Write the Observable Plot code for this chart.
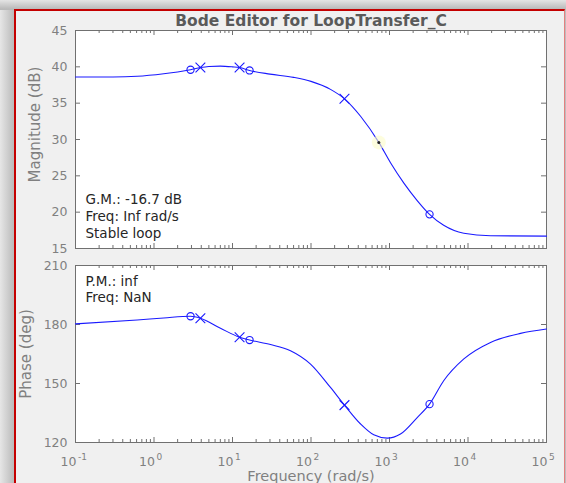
<!DOCTYPE html>
<html>
<head>
<meta charset="utf-8">
<script src="https://cdn.jsdelivr.net/npm/d3@7"></script>
<script src="https://cdn.jsdelivr.net/npm/@observablehq/plot@0.6"></script>
<style>
  html, body { margin:0; padding:0; width:566px; height:483px; overflow:hidden; }
  body { position:relative; background: linear-gradient(90deg, #e6e6e6 0px, #bdbdbd 13px, #bdbdbd 100%); }
  #shadowTop { position:absolute; left:0; top:0; width:566px; height:10px; background: linear-gradient(180deg, #e4e4e4 0px, #b9b9b9 9px); }
  #fig { position:absolute; left:14px; top:9px; width:548px; height:490px; background:#f0f0f0;
         border-top:2px solid #c40000; border-left:2px solid #c40000; border-right:1px solid #e48080; }
  .chart { position:absolute; left:0; }
  #mag { top:0px; }
  #phase { top:255px; }
</style>
</head>
<body>
<div id="shadowTop"></div>
<div id="fig"></div>
<div id="mag" class="chart"></div>
<div id="phase" class="chart"></div>
<script>
// ---------- data ----------
const freqMag = [0.1, 0.3, 0.61, 1.33, 2.0, 2.92, 3.9, 5, 7, 10, 12.3, 16.5, 30, 60, 100, 177, 267, 428, 731, 1030, 1524, 2254, 3236, 4900, 8850, 19360, 100000];
const magDb   = [38.6, 38.6, 38.7, 39.05, 39.3, 39.6, 39.9, 40.05, 40.1, 40.0, 39.9, 39.5, 39.0, 38.55, 38.0, 36.9, 35.6, 33.2, 29.6, 26.8, 24.0, 21.6, 19.7, 18.2, 17.1, 16.75, 16.7];

const freqPh   = [0.1, 0.61, 1.33, 2.92, 3.9, 7.03, 12.3, 16.5, 30.5, 54.8, 98.6, 177, 267, 428, 630, 935, 1380, 2254, 3236, 4900, 8850, 19360, 46700, 100000];
const phaseDeg = [180.3, 182.3, 183.3, 184.2, 183.2, 178.1, 173.5, 172.1, 169.8, 166.7, 159.9, 148.0, 139.0, 129.4, 123.9, 122.2, 124.3, 132.7, 139.5, 151.4, 162.5, 170.9, 175.5, 177.7];

// compensator poles (x) and zeros (o)
const zeroFreq  = [2.92, 16.5, 3236];
const zeroMag   = [39.6, 39.5, 19.7];
const zeroPhase = [184.2, 172.1, 139.5];
const poleFreq  = [3.9, 12.3, 267];
const poleMag   = [39.9, 39.9, 35.6];
const polePhase = [183.2, 173.5, 139.0];
const gmFreq = [731];
const gmMag  = [29.6];

// ticks and labels
const xMajor = [0.1, 1, 10, 100, 1000, 10000, 100000];
const xExp   = ["-1", "0", "1", "2", "3", "4", "5"];
const xMinor = [0.1, 1, 10, 100, 1000, 10000].flatMap(d => [2,3,4,5,6,7,8,9].map(m => d * m));
const magTicks   = [15, 20, 25, 30, 35, 40, 45];
const phaseTicks = [120, 150, 180, 210];

const title = "Bode Editor for LoopTransfer_C";
const magLabel = "Magnitude (dB)";
const phaseLabel = "Phase (deg)";
const freqLabel = "Frequency (rad/s)";
const gmText = ["G.M.: -16.7 dB", "Freq: Inf rad/s", "Stable loop"];
const pmText = ["P.M.: inf", "Freq: NaN"];

// ---------- layout ----------
const W = 566, ML = 75, MR = 20;
const PW = W - ML - MR;
const axisColor = "#707070";
const labelColor = "#808080";
const lineColor = "#1a1aff";
const font = "DejaVu Sans, Liberation Sans, sans-serif";

const magRows = freqMag.map((f, i) => ({f, v: magDb[i]}));
const phRows  = freqPh.map((f, i) => ({f, v: phaseDeg[i]}));
const zMag = zeroFreq.map((f, i) => ({f, v: zeroMag[i]}));
const pMag = poleFreq.map((f, i) => ({f, v: poleMag[i]}));
const zPh  = zeroFreq.map((f, i) => ({f, v: zeroPhase[i]}));
const pPh  = poleFreq.map((f, i) => ({f, v: polePhase[i]}));
const gmRows = gmFreq.map((f, i) => ({f, v: gmMag[i]}));

function boxTicks(PH, yTicks) {
  return [
    Plot.tickX(xMajor, {x: d => d, insetTop: PH - 5, stroke: axisColor}),
    Plot.tickX(xMajor, {x: d => d, insetBottom: PH - 5, stroke: axisColor}),
    Plot.tickX(xMinor, {x: d => d, insetTop: PH - 3, stroke: axisColor}),
    Plot.tickX(xMinor, {x: d => d, insetBottom: PH - 3, stroke: axisColor}),
    Plot.tickY(yTicks, {y: d => d, insetRight: PW - 5, stroke: axisColor}),
    Plot.tickY(yTicks, {y: d => d, insetLeft: PW - 5, stroke: axisColor}),
    Plot.text(yTicks, {y: d => d, frameAnchor: "left", text: d => String(d), textAnchor: "end", dx: -8, fill: labelColor, fontSize: 12.5})
  ];
}

// ---------- magnitude ----------
const magMT = 30, magMB = 7, magH = 255;
const magPH = magH - magMT - magMB;
const mag = Plot.plot({
  width: W, height: magH,
  marginLeft: ML, marginRight: MR, marginTop: magMT, marginBottom: magMB,
  style: {background: "transparent", fontFamily: font, overflow: "visible"},
  x: {type: "log", domain: [0.1, 1e5], axis: null},
  y: {domain: [15, 45], axis: null},
  marks: [
    Plot.frame({fill: "white", stroke: axisColor}),
    ...boxTicks(magPH, magTicks),
    Plot.line(magRows, {x: "f", y: "v", curve: "monotone-x", stroke: lineColor, strokeWidth: 1.1}),
    Plot.dot(gmRows, {x: "f", y: "v", r: 7, fill: "#fbfbc8", fillOpacity: 0.6}),
    Plot.dot(gmRows, {x: "f", y: "v", r: 1.5, fill: "#222"}),
    Plot.dot(zMag, {x: "f", y: "v", r: 3.6, stroke: lineColor, fill: "none", strokeWidth: 1.1}),
    Plot.dot(pMag, {x: "f", y: "v", symbol: "times", r: 4.5, stroke: lineColor, strokeWidth: 1.1}),
    Plot.text([gmText.join("\n")], {frameAnchor: "bottom-left", text: d => d, textAnchor: "start", lineAnchor: "bottom", lineHeight: 1.25, dx: 10, dy: -11, fontSize: 13.5, fill: "#262626"}),
    Plot.text([title], {frameAnchor: "top", text: d => d, textAnchor: "middle", lineAnchor: "bottom", dy: -5, fontSize: 15.5, fontWeight: "bold", fill: "#5a5a5a"}),
    Plot.text([magLabel], {frameAnchor: "left", text: d => d, textAnchor: "middle", rotate: -90, dx: -40, dy: -15, fontSize: 15, fill: labelColor})
  ]
});
document.getElementById("mag").appendChild(mag);

// ---------- phase ----------
const phMT = 10, phMB = 41, phH = 228;
const phPH = phH - phMT - phMB;
const phase = Plot.plot({
  width: W, height: phH,
  marginLeft: ML, marginRight: MR, marginTop: phMT, marginBottom: phMB,
  style: {background: "transparent", fontFamily: font, overflow: "visible"},
  x: {type: "log", domain: [0.1, 1e5], axis: null},
  y: {domain: [120, 210], axis: null},
  marks: [
    Plot.frame({fill: "white", stroke: axisColor}),
    ...boxTicks(phPH, phaseTicks),
    Plot.line(phRows, {x: "f", y: "v", curve: "monotone-x", stroke: lineColor, strokeWidth: 1.1}),
    Plot.dot(zPh, {x: "f", y: "v", r: 3.6, stroke: lineColor, fill: "none", strokeWidth: 1.1}),
    Plot.dot(pPh, {x: "f", y: "v", symbol: "times", r: 4.5, stroke: lineColor, strokeWidth: 1.1}),
    Plot.text([pmText.join("\n")], {frameAnchor: "top-left", text: d => d, textAnchor: "start", lineAnchor: "top", lineHeight: 1.2, dx: 10, dy: 9, fontSize: 13.5, fill: "#262626"}),
    Plot.text(xMajor, {x: d => d, frameAnchor: "bottom", text: () => "10", textAnchor: "end", lineAnchor: "bottom", dx: 1, dy: 23, fontSize: 12.5, fill: labelColor}),
    Plot.text(xMajor, {x: d => d, frameAnchor: "bottom", text: (d, i) => xExp[i], textAnchor: "start", lineAnchor: "bottom", dx: 2.5, dy: 17, fontSize: 9, fill: labelColor}),
    Plot.text([phaseLabel], {frameAnchor: "left", text: d => d, textAnchor: "middle", rotate: -90, dx: -49, dy: 0, fontSize: 15, fill: labelColor}),
    Plot.text([freqLabel], {frameAnchor: "bottom", text: d => d, textAnchor: "middle", lineAnchor: "bottom", dy: 38.5, fontSize: 14.5, fill: labelColor})
  ]
});
document.getElementById("phase").appendChild(phase);
</script>
</body>
</html>
